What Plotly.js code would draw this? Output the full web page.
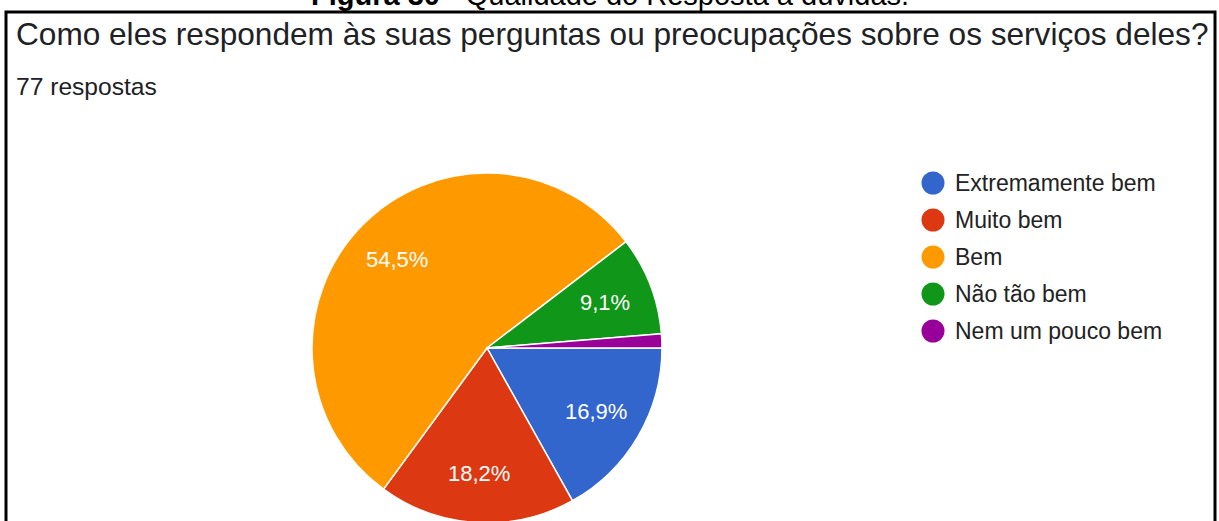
<!DOCTYPE html>
<html>
<head>
<meta charset="utf-8">
<script src="https://cdn.plot.ly/plotly-3.0.1.min.js"></script>
<style>
html, body { margin: 0; padding: 0; overflow: hidden; background: #fff; }
#chart { width: 1219px; height: 540px; }
</style>
</head>
<body>
<div id="chart"></div>
<script>
// ---- data ----
const categories = ["Extremamente bem", "Muito bem", "Bem", "Não tão bem", "Nem um pouco bem"];
const responses = [13, 14, 42, 7, 1];
const sliceColors = ["#3366cc", "#dc3912", "#ff9900", "#109618", "#990099"];
const showLabel = [true, true, true, true, false];
const questionTitle = "Como eles respondem às suas perguntas ou preocupações sobre os serviços deles?";
const responseCount = "77 respostas";
const captionBold = "Figura 30";
const captionRest = " - Qualidade do Resposta à dúvidas.";

// ---- layout helpers ----
const W = 1219, H = 540;
const px = v => v / W;
const py = v => 1 - v / H;
const FONT = "Liberation Sans, Arial, sans-serif";

// pie geometry (pixels)
const pieCx = 487, pieCy = 348, pieR = 175;

const pie = {
  type: "pie",
  labels: categories,
  values: responses,
  sort: false,
  direction: "clockwise",
  rotation: 90,
  marker: { colors: sliceColors, line: { color: "#ffffff", width: 1.5 } },
  textinfo: "none",
  hoverinfo: "label+percent",
  showlegend: false,
  domain: { x: [px(pieCx - pieR), px(pieCx + pieR)], y: [py(pieCy + pieR), py(pieCy - pieR)] }
};

const annotations = [
  { text: "<b>" + captionBold + "</b>" + captionRest, x: px(610), y: py(-5), xanchor: "center", yanchor: "middle",
    font: { family: FONT, size: 29, color: "#000000" } },
  { text: questionTitle, x: px(14), y: py(34), xanchor: "left", yanchor: "middle",
    font: { family: FONT, size: 31.6, color: "#202124" } },
  { text: responseCount, x: px(14), y: py(87), xanchor: "left", yanchor: "middle",
    font: { family: FONT, size: 24.6, color: "#202124" } }
];
const shapes = [
  { type: "rect", xref: "paper", yref: "paper", x0: px(6), x1: px(1215), y0: py(560), y1: py(12),
    line: { color: "#000000", width: 3 }, fillcolor: "rgba(0,0,0,0)" }
];

// percentage labels inside the slices, placed along each slice's bisector
const total = responses.reduce((a, b) => a + b, 0);
let cum = 0;
responses.forEach((v, i) => {
  const mid = (cum + v / 2) / total;
  cum += v;
  if (!showLabel[i]) return;
  const th = 2 * Math.PI * mid; // clockwise from 3 o'clock
  const k = 0.72;
  const lx = pieCx + k * pieR * Math.cos(th);
  const ly = pieCy + k * pieR * Math.sin(th);
  const pct = (100 * v / total).toFixed(1).replace(".", ",") + "%";
  annotations.push({ text: pct, x: px(lx), y: py(ly), xanchor: "center", yanchor: "middle",
    font: { family: FONT, size: 22, color: "#ffffff" } });
});

// legend (circle + label) built from the category arrays
const legendTop = 183, legendStep = 37;
categories.forEach((c, i) => {
  const cy = legendTop + i * legendStep;
  shapes.push({ type: "circle", xref: "paper", yref: "paper",
    x0: px(933 - 11.5), x1: px(933 + 11.5), y0: py(cy + 11.5), y1: py(cy - 11.5),
    fillcolor: sliceColors[i], line: { width: 0 } });
  annotations.push({ text: c, x: px(953), y: py(cy), xanchor: "left", yanchor: "middle",
    font: { family: FONT, size: 23, color: "#222222" } });
});
annotations.forEach(a => { a.xref = "paper"; a.yref = "paper"; a.showarrow = false; });

const layout = {
  width: W, height: H,
  margin: { l: 0, r: 0, t: 0, b: 0 },
  paper_bgcolor: "#ffffff",
  separators: ",.",
  showlegend: false,
  annotations: annotations,
  shapes: shapes
};

Plotly.newPlot("chart", [pie], layout, { displayModeBar: false, staticPlot: true });
</script>
</body>
</html>
